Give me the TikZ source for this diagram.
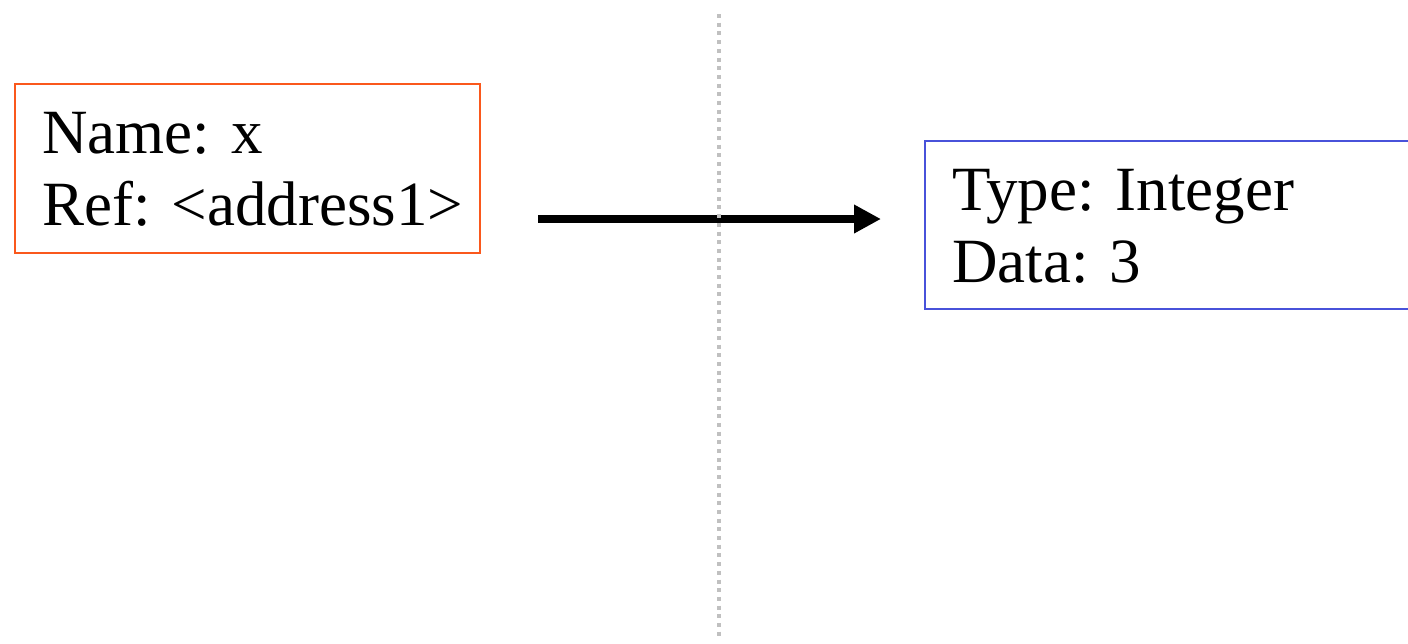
\documentclass[tikz,border=0pt]{standalone}
\usepackage{fontspec}
\setmainfont{Liberation Serif}
\usetikzlibrary{arrows.meta}
\definecolor{boxorange}{RGB}{250,88,28}
\definecolor{boxblue}{RGB}{72,82,218}
\definecolor{dotgray}{RGB}{192,192,192}
\tikzset{
  box/.style={draw, line width=2pt, rectangle, inner sep=0pt, anchor=north west},
  txt/.style={anchor=base west, inner sep=0pt, font=\fontsize{63}{72}\selectfont},
  divider/.style={draw=dotgray, line width=4pt, dash pattern=on 4pt off 4.7pt},
  ptr/.style={line width=7.5pt, -{Triangle[length=27pt,width=27pt]}}
}
\begin{document}
\begin{tikzpicture}[x=1pt,y=-1pt]
\useasboundingbox (0,0) rectangle (1408,643);
\node[box, draw=boxorange, minimum width=465pt, minimum height=169pt] (var) at (14,83) {};
\node[txt] (name) at (42,153) {Name: x};
\node[txt] (ref) at (42,225) {Ref: <address1>};
\node[box, draw=boxblue, minimum width=500pt, minimum height=168pt] (obj) at (924,140) {};
\node[txt] (type) at (952,210) {Type: Integer};
\node[txt] (data) at (952,282) {Data: 3};
\coordinate (ps) at (538,219);
\coordinate (pe) at (881,219);
\draw[ptr] (ps) -- (pe);
\coordinate (dtop) at (719,14);
\coordinate (dbot) at (719,640);
\draw[divider] (dtop) -- (dbot);
\end{tikzpicture}
\end{document}
